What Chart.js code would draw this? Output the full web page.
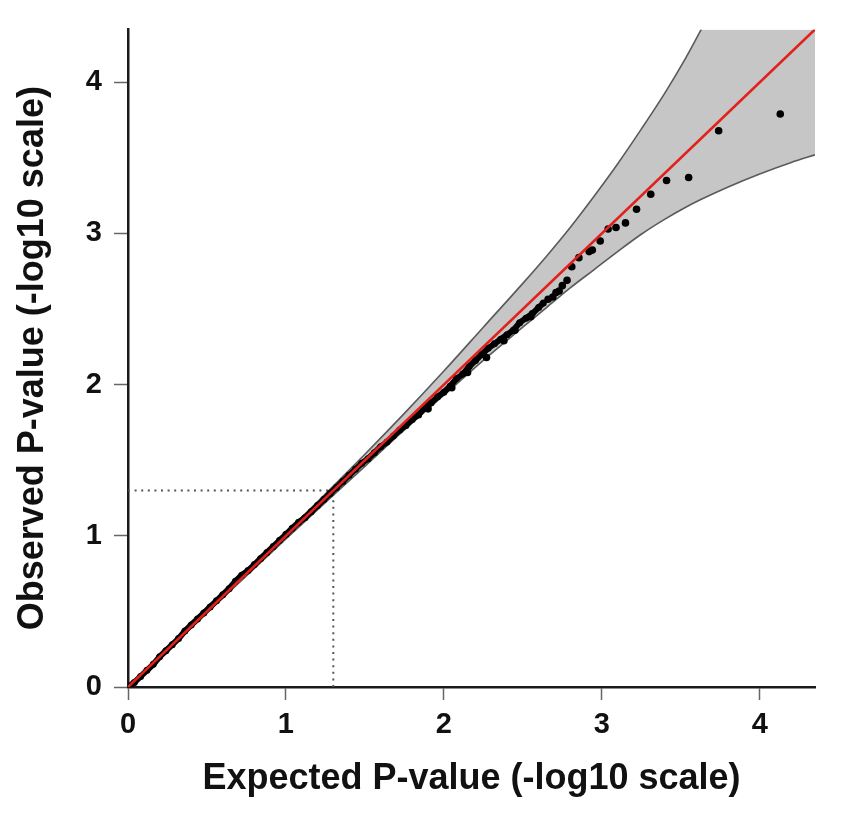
<!DOCTYPE html>
<html>
<head>
<meta charset="utf-8">
<title>QQ plot</title>
<script src="https://cdn.jsdelivr.net/npm/chart.js@4.4.1/dist/chart.umd.min.js"></script>
<style>
    html, body { margin: 0; padding: 0; background: #fff; }
    #wrap { width: 850px; height: 820px; position: relative; }
</style>
</head>
<body>
<div id="wrap"><canvas id="qqChart"></canvas></div>
<script>
// --- Data ---
const axisMax = 4.35;
const pThreshold = 1.3; // -log10(0.05)

// bulk of the points, close to the diagonal
const denseExpected = [0, 0.04, 0.08, 0.12, 0.16, 0.2, 0.24, 0.28, 0.32, 0.36, 0.4, 0.44, 0.48, 0.52, 0.56, 0.6,
    0.64, 0.68, 0.72, 0.76, 0.8, 0.84, 0.88, 0.92, 0.96, 1.0, 1.04, 1.08, 1.12, 1.16, 1.2, 1.24, 1.28, 1.32,
    1.36, 1.4, 1.44, 1.48, 1.52, 1.56, 1.6, 1.64, 1.68, 1.72, 1.76, 1.8, 1.84, 1.88, 1.92, 1.96, 2.0, 2.04,
    2.08, 2.12, 2.16, 2.2, 2.24, 2.28, 2.32, 2.36, 2.4, 2.44, 2.48, 2.52, 2.56, 2.6, 2.63];
const denseObserved = [0, 0.03, 0.07, 0.11, 0.15, 0.2, 0.24, 0.28, 0.32, 0.37, 0.41, 0.45, 0.49, 0.53, 0.57, 0.61,
    0.65, 0.7, 0.74, 0.77, 0.81, 0.85, 0.89, 0.93, 0.97, 1.01, 1.05, 1.09, 1.12, 1.16, 1.2, 1.24, 1.28, 1.32,
    1.36, 1.4, 1.44, 1.48, 1.51, 1.55, 1.59, 1.62, 1.66, 1.7, 1.73, 1.77, 1.8, 1.85, 1.88, 1.92, 1.95, 1.99,
    2.04, 2.07, 2.12, 2.16, 2.2, 2.24, 2.27, 2.3, 2.33, 2.36, 2.41, 2.44, 2.47, 2.51, 2.54];

// the sparse upper tail and a few stragglers below the bulk
const tailExpected = [1.9, 2.05, 2.15, 2.27, 2.38, 2.45, 2.55, 2.66, 2.69, 2.71, 2.73, 2.75, 2.78, 2.81, 2.855,
    2.92, 2.94, 2.99, 3.04, 3.09, 3.15, 3.22, 3.31, 3.41, 3.55, 3.74, 4.13];
const tailObserved = [1.84, 1.98, 2.08, 2.18, 2.29, 2.36, 2.45, 2.565, 2.58, 2.61, 2.62, 2.655, 2.69, 2.78, 2.84,
    2.88, 2.89, 2.95, 3.03, 3.04, 3.07, 3.16, 3.26, 3.35, 3.37, 3.68, 3.79];

// 95% confidence band (upper edge leaves the plot at the top near x = 3.63)
const bandX     = [0, 0.5, 1.0, 1.5, 1.75, 2.0, 2.25, 2.5, 2.65, 2.8, 2.95, 3.1, 3.25, 3.4, 3.52, 3.63, 3.8, 4.0, 4.2, 4.35];
const bandUpper = [0, 0.51, 1.02, 1.54, 1.81, 2.09, 2.38, 2.67, 2.85, 3.04, 3.245, 3.46, 3.69, 3.93, 4.14, 4.35, 4.35, 4.35, 4.35, 4.35];
const bandLower = [0, 0.49, 0.98, 1.46, 1.70, 1.93, 2.16, 2.38, 2.51, 2.64, 2.76, 2.88, 2.995, 3.095, 3.167, 3.226, 3.308, 3.394, 3.47, 3.52];

const tickValues = [0, 1, 2, 3, 4];

// --- Helpers ---
const toPoints = (xs, ys) => xs.map((x, i) => ({ x: x, y: ys[i] }));

// upper edge only while it is inside the plot
function upperEdgePoints() {
    const pts = toPoints(bandX, bandUpper);
    const end = pts.findIndex(p => p.y >= axisMax);
    return end < 0 ? pts : pts.slice(0, end + 1);
}

const bandEdge = '#5a5a5a';
const tickFont = { family: 'Liberation Sans', size: 29, weight: 'bold' };
const titleFont = { family: 'Liberation Sans', size: 36, weight: 'bold' };

document.addEventListener('DOMContentLoaded', () => {
    initChart();
});

function initChart() {
    const ctx = document.getElementById('qqChart').getContext('2d');

    new Chart(ctx, {
        type: 'scatter',
        data: {
            datasets: [
                {
                    // band fill: upper values filled down to the lower edge (dataset 1)
                    data: toPoints(bandX, bandUpper),
                    showLine: true,
                    borderWidth: 0,
                    borderColor: 'rgba(0,0,0,0)',
                    backgroundColor: '#c6c6c6',
                    fill: { target: 1 },
                    pointRadius: 0,
                    tension: 0,
                    order: 11
                },
                {
                    data: toPoints(bandX, bandLower),
                    showLine: true,
                    borderColor: bandEdge,
                    borderWidth: 1.6,
                    fill: false,
                    pointRadius: 0,
                    cubicInterpolationMode: 'monotone',
                    order: 10
                },
                {
                    data: upperEdgePoints(),
                    showLine: true,
                    borderColor: bandEdge,
                    borderWidth: 1.6,
                    fill: false,
                    pointRadius: 0,
                    cubicInterpolationMode: 'monotone',
                    order: 10
                },
                {
                    // dotted guide lines at p = 0.05
                    data: [{ x: 0, y: pThreshold }, { x: pThreshold, y: pThreshold }],
                    showLine: true,
                    borderColor: '#555',
                    borderWidth: 2,
                    borderDash: [2, 4.6],
                    pointRadius: 0,
                    order: 6
                },
                {
                    data: [{ x: pThreshold, y: 0 }, { x: pThreshold, y: pThreshold }],
                    showLine: true,
                    borderColor: '#555',
                    borderWidth: 2,
                    borderDash: [2, 4.6],
                    pointRadius: 0,
                    order: 6
                },
                {
                    data: toPoints(denseExpected, denseObserved),
                    showLine: true,
                    borderColor: '#000',
                    borderWidth: 6,
                    backgroundColor: '#000',
                    pointRadius: 3.5,
                    pointBorderWidth: 0,
                    order: 4
                },
                {
                    data: toPoints(tailExpected, tailObserved),
                    backgroundColor: '#000',
                    pointRadius: 3.8,
                    pointBorderWidth: 0,
                    order: 3
                },
                {
                    // y = x reference
                    data: [{ x: 0, y: 0 }, { x: axisMax, y: axisMax }],
                    showLine: true,
                    borderColor: '#e3211c',
                    borderWidth: 2.6,
                    pointRadius: 0,
                    order: 1
                }
            ]
        },
        options: {
            responsive: true,
            maintainAspectRatio: false,
            animation: false,
            events: [],
            layout: { padding: { top: 28, right: 35, left: 0, bottom: 0 } },
            plugins: {
                legend: { display: false },
                tooltip: { enabled: false }
            },
            scales: {
                x: {
                    type: 'linear',
                    min: 0,
                    max: axisMax,
                    afterFit: s => { s.height = 133; },
                    afterBuildTicks: s => { s.ticks = tickValues.map(v => ({ value: v })); },
                    ticks: { font: tickFont, color: '#111', padding: 8, callback: v => String(v) },
                    grid: { drawOnChartArea: false, drawTicks: true, tickLength: 13, tickColor: '#666', tickWidth: 1.5 },
                    border: { display: true, color: '#1a1a1a', width: 2.5 },
                    title: {
                        display: true,
                        text: 'Expected P-value (-log10 scale)',
                        font: titleFont,
                        color: '#111',
                        padding: { top: 0, bottom: 19 }
                    }
                },
                y: {
                    type: 'linear',
                    min: 0,
                    max: axisMax,
                    afterFit: s => { s.width = 128; },
                    afterBuildTicks: s => { s.ticks = tickValues.map(v => ({ value: v })); },
                    ticks: { font: tickFont, color: '#111', padding: 12, callback: v => String(v) },
                    grid: { drawOnChartArea: false, drawTicks: true, tickLength: 14, tickColor: '#666', tickWidth: 1.5 },
                    border: { display: true, color: '#1a1a1a', width: 2.5 },
                    title: {
                        display: true,
                        text: 'Observed P-value (-log10 scale)',
                        font: titleFont,
                        color: '#111',
                        padding: { top: 11, bottom: 0 }
                    }
                }
            }
        }
    });
}
</script>
</body>
</html>
